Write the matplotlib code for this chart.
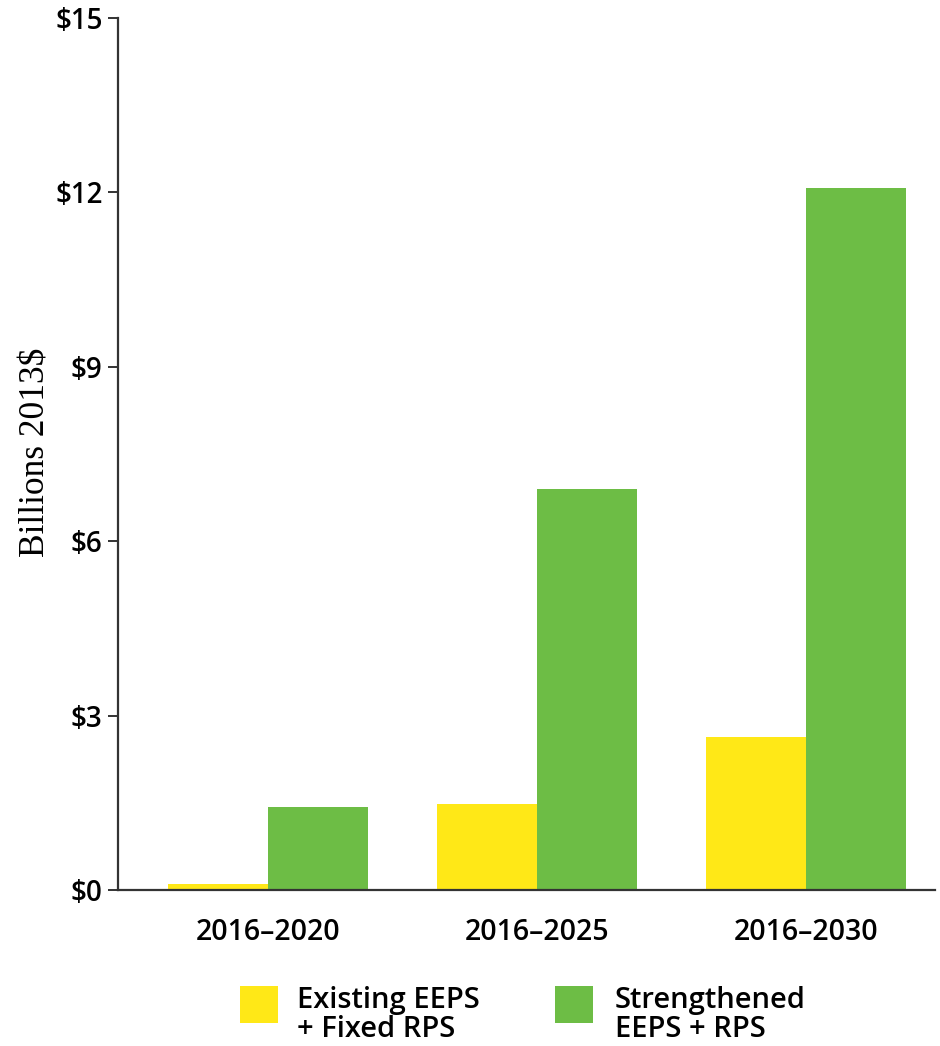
import matplotlib
matplotlib.use("Agg")
import matplotlib.pyplot as plt
import matplotlib.patches as patches
import numpy as np

periods = ["2016–2020", "2016–2025", "2016–2030"]
existing = [0.10, 1.48, 2.63]      # Existing EEPS + Fixed RPS
strengthened = [1.43, 6.90, 12.08]  # Strengthened EEPS + RPS
yticks = [0, 3, 6, 9, 12, 15]
ytick_labels = ["$0", "$3", "$6", "$9", "$12", "$15"]

yellow = "#FFE817"
green = "#6DBD45"
axis_color = "#333333"
sans = "Open Sans"

fig = plt.figure(figsize=(9.4, 10.46), dpi=100)
ax = fig.add_axes([0.1255, 0.1491, 0.8692, 0.8337])

x = np.arange(len(periods))
w = 0.372
ax.bar(x - w / 2, existing, w, color=yellow, linewidth=0)
ax.bar(x + w / 2, strengthened, w, color=green, linewidth=0)

ax.set_xlim(-0.558, 2.48)
ax.set_ylim(0, 15)

for s in ["top", "right"]:
    ax.spines[s].set_visible(False)
for s in ["left", "bottom"]:
    ax.spines[s].set_color(axis_color)
    ax.spines[s].set_linewidth(1.6)

ax.set_yticks(yticks)
ax.set_yticklabels(ytick_labels, fontsize=20, fontweight="semibold", family=sans)
ax.tick_params(axis="y", length=7, width=1.4, color=axis_color, pad=4)
ax.set_xticks(x)
ax.set_xticklabels(periods, fontsize=20.5, fontweight="semibold", family=sans)
ax.tick_params(axis="x", length=0, pad=20)

fig.text(0.038, 1 - 452 / 1046, "Billions 2013$", rotation=90, ha="center", va="center",
         fontsize=25.5, family="Liberation Serif")

# legend drawn by hand: squares with two-line labels
entries = [(yellow, "Existing EEPS\n+ Fixed RPS", 240, 297), (green, "Strengthened\nEEPS + RPS", 555, 615)]
for color, label, px, tx in entries:
    fig.patches.append(patches.Rectangle((px / 940, 1 - 1023 / 1046), 38 / 940, 37 / 1046,
                                         transform=fig.transFigure, color=color, linewidth=0))
    fig.text(tx / 940, 1 - 1015 / 1046, label, ha="left", va="center",
             fontsize=21, fontweight="semibold", family=sans, linespacing=1.0)

fig.savefig("out.png", dpi=100)
